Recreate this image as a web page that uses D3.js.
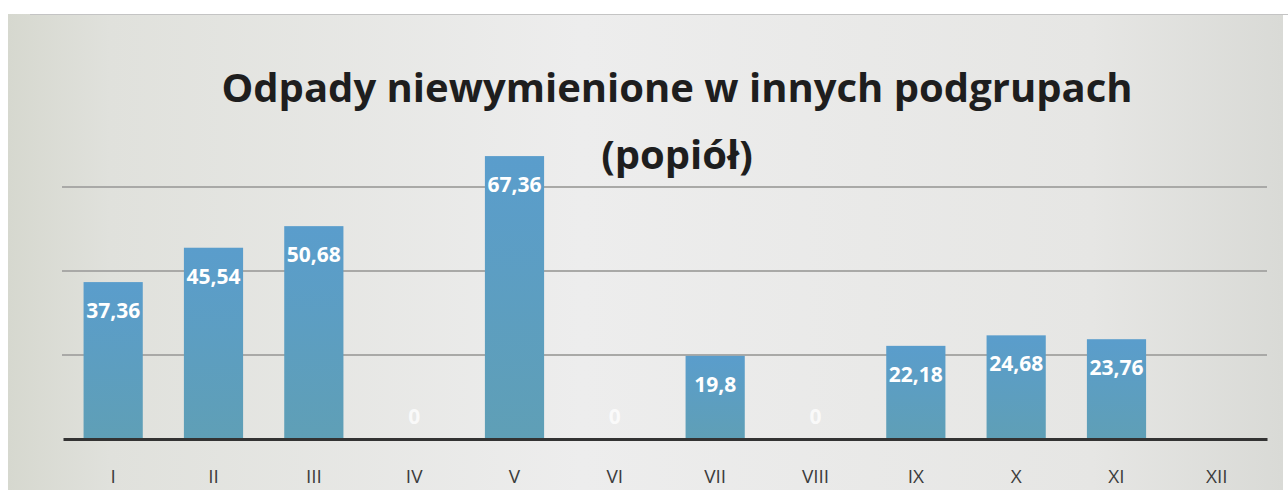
<!DOCTYPE html>
<html>
<head>
<meta charset="utf-8">
<script src="https://cdn.jsdelivr.net/npm/d3@7"></script>
<style>
  body { margin: 0; background: #ffffff; }
  svg { display: block; }
</style>
</head>
<body>
<div id="chart"></div>
<script>
// Chart data: months in roman numerals and the tonnes of ash per month
const months = ["I", "II", "III", "IV", "V", "VI", "VII", "VIII", "IX", "X", "XI", "XII"];
const values = [37.36, 45.54, 50.68, 0, 67.36, 0, 19.8, 0, 22.18, 24.68, 23.76, null];
const valueLabels = ["37,36", "45,54", "50,68", "0", "67,36", "0", "19,8", "0", "22,18", "24,68", "23,76", ""];
const gridValues = [20, 40, 60];
const titleLines = ["Odpady niewymienione w innych podgrupach", "(popiół)"];

const width = 1288;
const height = 490;

const svg = d3.select("#chart")
  .append("svg")
  .attr("width", width)
  .attr("height", height);

// background of the scanned chart
const defs = svg.append("defs");
const bg = defs.append("linearGradient").attr("id", "bg").attr("x1", 0).attr("x2", 1).attr("y1", 0).attr("y2", 0);
bg.append("stop").attr("offset", "0%").attr("stop-color", "#d6d8cf");
bg.append("stop").attr("offset", "8%").attr("stop-color", "#e0e1dc");
bg.append("stop").attr("offset", "45%").attr("stop-color", "#ededed");
bg.append("stop").attr("offset", "85%").attr("stop-color", "#e6e6e4");
bg.append("stop").attr("offset", "100%").attr("stop-color", "#d9dad6");

const barGrad = defs.append("linearGradient").attr("id", "bar").attr("x1", 0).attr("x2", 0).attr("y1", 0).attr("y2", 1);
barGrad.append("stop").attr("offset", "0%").attr("stop-color", "#5a9dcc");
barGrad.append("stop").attr("offset", "100%").attr("stop-color", "#5f9fb6");

svg.append("rect")
  .attr("x", 8).attr("y", 14)
  .attr("width", 1275).attr("height", height - 14)
  .attr("fill", "url(#bg)");

svg.append("line")
  .attr("x1", 30).attr("x2", 1288)
  .attr("y1", 14.5).attr("y2", 14.5)
  .attr("stroke", "#c4c4c4")
  .attr("stroke-width", 1);

// scales
const x = d3.scaleBand()
  .domain(months)
  .range([63, 1267])
  .paddingInner(0.41)
  .paddingOuter(0.205);

const y = d3.scaleLinear()
  .domain([0, 80])
  .range([439, 103]);

// gridlines
svg.append("g")
  .selectAll("line")
  .data(gridValues)
  .enter()
  .append("line")
  .attr("x1", 62).attr("x2", 1267)
  .attr("y1", d => y(d)).attr("y2", d => y(d))
  .attr("stroke", "#a9a9a7")
  .attr("stroke-width", 2);

// bars
svg.append("g")
  .selectAll("rect")
  .data(months)
  .enter()
  .append("rect")
  .attr("x", d => x(d))
  .attr("width", x.bandwidth())
  .attr("y", (d, i) => y(values[i] || 0))
  .attr("height", (d, i) => y(0) - y(values[i] || 0))
  .attr("fill", "url(#bar)");

// baseline axis
const xAxis = svg.append("g")
  .attr("transform", "translate(0," + y(0) + ")")
  .call(d3.axisBottom(x).tickSize(0).tickPadding(31));

xAxis.select(".domain")
  .attr("stroke", "#333333")
  .attr("stroke-width", 3);

xAxis.selectAll("text")
  .attr("fill", "#3c3c3c")
  .style("font-family", "'Open Sans', sans-serif")
  .style("font-size", "19px");

// value labels inside the bar ends
svg.append("g")
  .selectAll("text")
  .data(months)
  .enter()
  .append("text")
  .attr("x", d => x(d) + x.bandwidth() / 2)
  .attr("y", (d, i) => values[i] ? y(values[i]) + 36 : y(0) - 15)
  .attr("text-anchor", "middle")
  .attr("fill", "#ffffff")
  .attr("opacity", (d, i) => values[i] ? 1 : 0.75)
  .style("font-family", "'Open Sans', sans-serif")
  .style("font-weight", "bold")
  .style("font-size", "21px")
  .text((d, i) => valueLabels[i]);

// title, two lines
const title = svg.append("g")
  .selectAll("text")
  .data(titleLines)
  .enter()
  .append("text")
  .attr("x", 677)
  .attr("y", (d, i) => 102 + i * 67)
  .attr("text-anchor", "middle")
  .attr("fill", "#1e1e1e")
  .style("font-family", "'Open Sans', sans-serif")
  .style("font-weight", "bold")
  .style("font-size", "37px")
  .text(d => d);

// fit the first title line to the scanned width
const first = title.filter((d, i) => i === 0).node();
const scale = 910 / first.getComputedTextLength();
title.style("font-size", (37 * scale).toFixed(1) + "px");
</script>
</body>
</html>
